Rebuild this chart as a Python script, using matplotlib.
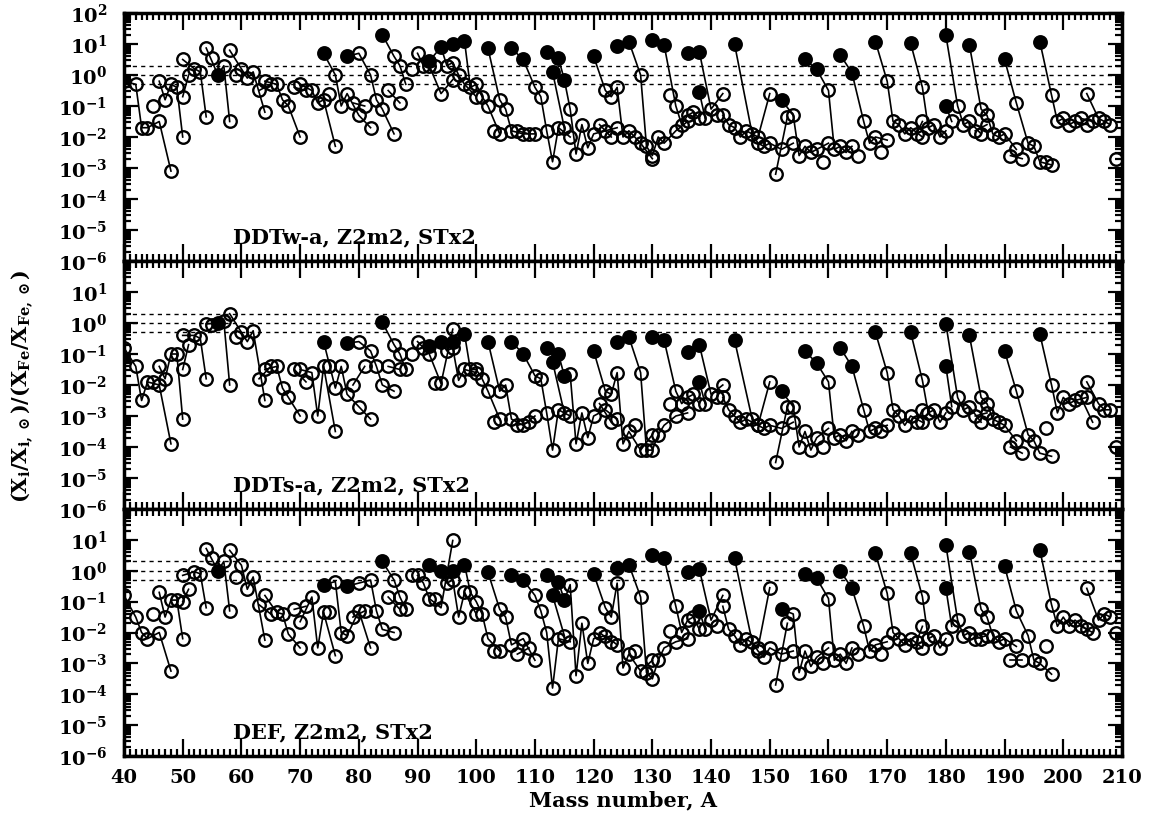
import numpy as np
import matplotlib.pyplot as plt
from matplotlib.ticker import LogLocator, FixedLocator, MultipleLocator, NullFormatter, FuncFormatter

# stable isotopes, one list per element
elements = ["Ca", "Sc", "Ti", "V", "Cr", "Mn", "Fe", "Co", "Ni", "Cu", "Zn", "Ga", "Ge", "As",
            "Se", "Br", "Kr", "Rb", "Sr", "Y", "Zr", "Nb", "Mo", "Ru", "Rh", "Pd", "Ag", "Cd",
            "In", "Sn", "Sb", "Te", "I", "Xe", "Cs", "Ba", "La", "Ce", "Pr", "Nd", "Sm", "Eu",
            "Gd", "Tb", "Dy", "Ho", "Er", "Tm", "Yb", "Lu", "Hf", "Ta", "W", "Re", "Os", "Ir",
            "Pt", "Au", "Hg", "Tl", "Pb", "Bi"]
iso_mass = [
    [40, 42, 43, 44, 46, 48], [45], [46, 47, 48, 49, 50], [50, 51], [50, 52, 53, 54], [55],
    [54, 56, 57, 58], [59], [58, 60, 61, 62, 64], [63, 65], [64, 66, 67, 68, 70], [69, 71],
    [70, 72, 73, 74, 76], [75], [74, 76, 77, 78, 80, 82], [79, 81], [78, 80, 82, 83, 84, 86],
    [85, 87], [84, 86, 87, 88], [89], [90, 91, 92, 94, 96], [93], [92, 94, 95, 96, 97, 98, 100],
    [96, 98, 99, 100, 101, 102, 104], [103], [102, 104, 105, 106, 108, 110], [107, 109],
    [106, 108, 110, 111, 112, 113, 114, 116], [113, 115],
    [112, 114, 115, 116, 117, 118, 119, 120, 122, 124], [121, 123],
    [120, 122, 123, 124, 125, 126, 128, 130], [127],
    [124, 126, 128, 129, 130, 131, 132, 134, 136], [133], [130, 132, 134, 135, 136, 137, 138],
    [138, 139], [136, 138, 140, 142], [141], [142, 143, 144, 145, 146, 148, 150],
    [144, 147, 148, 149, 150, 152, 154], [151, 153], [152, 154, 155, 156, 157, 158, 160], [159],
    [156, 158, 160, 161, 162, 163, 164], [165], [162, 164, 166, 167, 168, 170], [169],
    [168, 170, 171, 172, 173, 174, 176], [175, 176], [174, 176, 177, 178, 179, 180], [180, 181],
    [180, 182, 183, 184, 186], [185, 187], [184, 186, 187, 188, 189, 190, 192], [191, 193],
    [190, 192, 194, 195, 196, 198], [197], [196, 198, 199, 200, 201, 202, 204], [203, 205],
    [204, 206, 207, 208], [209]]

# log10 of the ratio
logv_ddtw = [
    [-0.2, -0.3, -1.7, -1.7, -1.5, -3.1], [-1.0], [-0.2, -0.8, -0.3, -0.4, -2.0], [-0.7, 0.0],
    [0.5, 0.2, 0.1, -1.35], [0.55], [0.87, 0.0, 0.3, -1.5], [0.0], [0.8, 0.2, -0.1, 0.1, -1.2],
    [-0.5, -0.3], [-0.2, -0.3, -0.8, -1.0, -2.0], [-0.4, -0.5], [-0.3, -0.5, -0.9, -0.8, -2.3],
    [-0.6], [0.7, 0.0, -1.0, -0.6, -1.3, -1.7], [-0.9, -1.0], [0.6, 0.7, 0.0, -0.8, -1.1, -1.9],
    [-0.5, -0.9], [1.3, 0.6, 0.3, -0.3], [0.2], [0.7, 0.3, 0.3, -0.6, -0.15], [0.3],
    [0.45, 0.9, 0.3, 0.4, 0.0, -0.3, -0.7], [1.0, 1.1, -0.4, -0.3, -0.7, -1.0, -1.9], [-1.8],
    [0.86, -0.8, -1.1, -1.8, -1.9, -1.9], [-1.8, -1.9],
    [0.86, 0.5, -0.4, -0.7, -1.8, -2.8, -1.7, -2.0], [0.1, -1.7],
    [0.75, 0.55, -0.15, -1.1, -2.55, -1.6, -2.35, -1.9, -1.8, -1.7], [-1.6, -2.0],
    [0.6, -0.5, -0.7, -0.4, -2.0, -1.8, -2.2, -2.7], [-2.0],
    [0.95, 1.08, 0.0, -2.3, -2.6, -2.0, -2.2, -1.8, -1.5], [-0.65],
    [1.13, 0.97, -1.0, -1.6, -1.3, -1.2, -1.4], [-0.55, -1.4], [0.7, 0.75, -1.1, -0.6], [-1.3],
    [-1.3, -1.6, -1.7, -2.0, -1.8, -2.0, -0.6], [1.0, -1.9, -2.2, -2.3, -2.2, -2.4, -2.2],
    [-3.2, -1.35], [-0.8, -1.3, -2.6, -2.3, -2.5, -2.4, -2.2], [-2.8],
    [0.5, 0.18, -0.5, -2.4, -2.3, -2.5, -2.3], [-2.6], [0.65, 0.07, -1.5, -2.2, -2.0, -2.1],
    [-2.5], [1.08, -0.2, -1.5, -1.6, -1.9, -1.7, -2.0], [-1.9, -1.5],
    [1.02, -0.4, -1.7, -1.6, -2.0, -1.8], [-1.0, -1.5], [1.28, -1.0, -1.6, -1.5, -1.9],
    [-1.8, -1.6], [0.97, -1.1, -1.3, -1.9, -2.0, -1.9, -2.4], [-2.6, -2.7],
    [0.5, -0.9, -2.2, -2.3, -2.8, -2.9], [-2.8], [1.08, -0.65, -1.5, -1.4, -1.6, -1.5, -1.6],
    [-1.4, -1.5], [-0.6, -1.4, -1.5, -1.6], [-2.7]]

logv_ddts = [
    [-0.8, -1.4, -2.5, -1.9, -2.0, -3.9], [-1.9], [-1.4, -1.8, -1.0, -1.0, -3.1], [-1.5, -0.7],
    [-0.4, -0.4, -0.5, -1.8], [-0.05], [-0.03, 0.0, 0.07, -2.0], [-0.45],
    [0.3, -0.3, -0.6, -0.25, -2.5], [-1.8, -1.4], [-1.5, -1.4, -2.1, -2.4, -3.0], [-1.5, -1.9],
    [-1.5, -1.6, -3.0, -1.4, -3.5], [-1.4], [-0.6, -2.1, -1.4, -2.3, -2.7, -3.1], [-2.0, -1.4],
    [-0.65, -0.6, -0.9, -1.4, -2.0, -2.2], [-1.4, -1.5], [0.02, -0.7, -1.0, -1.5], [-1.0],
    [-0.6, -0.8, -1.0, -1.95, -0.2], [-1.95], [-0.75, -0.6, -0.9, -0.8, -1.85, -1.5, -1.6],
    [-0.6, -0.35, -1.5, -1.5, -1.8, -2.2, -3.1], [-3.2], [-0.6, -2.2, -2.0, -3.1, -3.3, -3.0],
    [-3.3, -3.2], [-0.6, -1.0, -1.7, -1.8, -2.9, -4.1, -2.8, -3.0], [-1.25, -2.9],
    [-0.8, -1.0, -1.7, -1.65, -3.9, -2.9, -3.7, -3.0, -2.8, -3.1], [-2.6, -3.2],
    [-0.9, -2.2, -2.3, -1.6, -3.9, -3.5, -4.1, -3.6], [-3.3],
    [-0.6, -0.45, -1.6, -4.1, -4.1, -3.6, -3.3, -3.0, -2.9], [-2.6],
    [-0.45, -0.55, -2.2, -2.6, -2.4, -2.3, -2.6], [-1.9, -2.6], [-0.95, -0.7, -2.3, -2.0],
    [-2.4], [-2.4, -2.8, -3.0, -3.2, -3.1, -3.3, -1.9], [-0.55, -3.1, -3.3, -3.4, -3.3, -3.4, -3.2],
    [-4.5, -2.7], [-2.2, -2.7, -4.0, -3.5, -4.1, -3.7, -3.4], [-4.0],
    [-0.9, -1.3, -1.9, -3.7, -3.6, -3.8, -3.5], [-3.6], [-0.8, -1.4, -2.8, -3.5, -3.4, -3.3],
    [-3.5], [-0.3, -1.6, -2.8, -3.0, -3.3, -3.0, -3.2], [-3.2, -2.8],
    [-0.3, -1.85, -2.9, -2.8, -3.2, -2.9], [-1.4, -2.7], [-0.03, -2.4, -2.8, -2.7, -3.2],
    [-3.0, -2.9], [-0.4, -2.4, -2.6, -3.1, -3.2, -3.3, -3.8], [-4.0, -4.2],
    [-0.9, -2.2, -3.6, -3.8, -4.2, -4.3], [-3.4], [-0.35, -2.0, -2.9, -2.4, -2.6, -2.5, -2.4],
    [-2.4, -3.2], [-1.9, -2.6, -2.8, -2.8], [-4.0]]

logv_def = [
    [-0.8, -1.5, -2.0, -2.2, -2.0, -3.25], [-1.4], [-0.7, -1.5, -0.95, -0.95, -2.2], [-1.0, -0.6],
    [-0.15, -0.03, -0.1, -1.2], [0.4], [0.72, 0.0, 0.3, -1.3], [-0.2],
    [0.66, 0.18, -0.6, -0.2, -2.25], [-1.1, -1.4], [-0.8, -1.35, -1.4, -2.05, -2.5],
    [-1.25, -1.15], [-1.65, -0.85, -2.5, -1.35, -2.75], [-1.35],
    [-0.45, -0.35, -2.0, -2.1, -1.3, -2.5], [-1.5, -1.3], [-0.5, -0.4, -0.3, -1.3, -1.9, -2.0],
    [-0.85, -1.25], [0.3, -0.3, -0.85, -1.25], [-0.15], [-0.15, -0.4, -0.9, -1.2, 0.98], [-0.9],
    [0.2, 0.0, -0.4, -0.3, -1.5, -0.7, -1.4], [0.0, 0.2, -0.7, -1.0, -1.4, -2.2, -2.6], [-2.6],
    [-0.05, -1.25, -1.5, -2.4, -2.2, -2.9], [-2.7, -2.5],
    [-0.15, -0.3, -0.8, -1.3, -2.0, -3.8, -2.2, -2.3], [-0.8, -2.1],
    [-0.15, -0.35, -0.95, -0.45, -3.4, -1.7, -3.0, -2.2, -2.1, -2.4], [-2.0, -2.3],
    [-0.1, -1.2, -1.5, -0.4, -3.15, -2.7, -3.25, -2.9], [-2.6],
    [0.1, 0.2, -0.85, -3.3, -3.5, -2.9, -2.5, -2.3, -2.2], [-1.95],
    [0.5, 0.4, -1.15, -2.0, -1.6, -1.5, -1.9], [-1.3, -1.9], [-0.05, 0.05, -1.6, -0.8], [-1.8],
    [-1.15, -1.9, -2.1, -2.4, -2.2, -2.5, -0.55], [0.4, -2.3, -2.6, -2.8, -2.5, -2.7, -2.6],
    [-3.7, -1.7], [-1.25, -1.4, -3.3, -2.6, -3.1, -2.8, -2.5], [-3.0],
    [-0.1, -0.25, -0.9, -2.9, -2.7, -3.0, -2.5], [-2.7], [0.0, -0.57, -1.8, -2.6, -2.4, -2.3],
    [-2.7], [0.56, -0.73, -2.0, -2.2, -2.4, -2.2, -2.5], [-2.3, -1.8],
    [0.56, -0.84, -2.2, -2.1, -2.5, -2.2], [-0.57, -1.8], [0.83, -1.6, -2.1, -2.0, -2.2],
    [-2.2, -2.1], [0.62, -1.25, -1.5, -2.1, -2.3, -2.2, -2.45], [-2.9, -2.9],
    [0.15, -1.3, -2.1, -2.9, -3.0, -3.35], [-2.45], [0.67, -1.1, -1.8, -1.5, -1.8, -1.6, -1.9],
    [-1.8, -2.0], [-0.57, -1.6, -1.4, -1.5], [-2.0]]

# nuclides drawn as filled circles (p-nuclei and 56Fe)
filled = {"Fe": [56], "Se": [74], "Kr": [78], "Sr": [84], "Mo": [92, 94], "Ru": [96, 98],
          "Pd": [102], "Cd": [106, 108], "In": [113], "Sn": [112, 114, 115], "Te": [120],
          "Xe": [124, 126], "Ba": [130, 132], "La": [138], "Ce": [136, 138], "Sm": [144],
          "Gd": [152], "Dy": [156, 158], "Er": [162, 164], "Yb": [168], "Hf": [174],
          "Ta": [180], "W": [180], "Os": [184], "Pt": [190], "Hg": [196]}

panel_labels = ["DDTw-a, Z2m2, STx2", "DDTs-a, Z2m2, STx2", "DEF, Z2m2, STx2"]
ref_lines = [2.0, 1.0, 0.5]

plt.rcParams['font.family'] = 'DejaVu Serif'
plt.rcParams['font.weight'] = 'bold'
plt.rcParams['mathtext.fontset'] = 'dejavuserif'
plt.rcParams['mathtext.default'] = 'bf'

W, H = 1152, 821
fig = plt.figure(figsize=(W / 100, H / 100), dpi=100)
x0, x1 = 124, 1122
panels_px = [(13, 261), (261, 509), (509, 756)]


def log_fmt(v, pos):
    return r"$10^{%d}$" % int(round(np.log10(v)))


data = [logv_ddtw, logv_ddts, logv_def]
for i, (t, b) in enumerate(panels_px):
    ax = fig.add_axes([x0 / W, 1 - b / H, (x1 - x0) / W, (b - t) / H])
    ax.set_yscale('log')
    ax.set_xlim(40, 210)
    ax.set_ylim(1e-6, 1e2)

    for v in ref_lines:
        ax.axhline(v, color='k', lw=1.0, ls=(0, (3, 3)), zorder=1)

    logv = data[i]
    for el, A, lv in zip(elements, iso_mass, logv):
        A = np.array(A)
        y = 10.0 ** np.array(lv)
        ax.plot(A, y, '-', color='k', lw=1.2, zorder=2)
        fl = np.isin(A, filled.get(el, []))
        ax.plot(A[~fl], y[~fl], 'o', ms=9, mfc='none', mec='k', mew=1.7, zorder=3)
        ax.plot(A[fl], y[fl], 'o', ms=9, mfc='k', mec='k', mew=1.7, zorder=4)

    ax.text(58.5, 10 ** -5.25, panel_labels[i], fontsize=15, fontweight='bold',
            ha='left', va='center')

    ax.xaxis.set_major_locator(MultipleLocator(10))
    ax.xaxis.set_minor_locator(MultipleLocator(1))
    top_exp = 2 if i == 0 else 1
    ax.yaxis.set_major_locator(FixedLocator([10.0 ** e for e in range(-6, top_exp + 1)]))
    ax.yaxis.set_minor_locator(LogLocator(base=10, subs=np.arange(2, 10), numticks=20))
    ax.yaxis.set_minor_formatter(NullFormatter())
    ax.yaxis.set_major_formatter(FuncFormatter(log_fmt))
    ax.tick_params(which='both', direction='in', top=True, right=True, width=1.6,
                   labelsize=14)
    ax.tick_params(axis='y', which='major', length=10, pad=12)
    ax.tick_params(axis='x', which='major', length=12, pad=9)
    ax.tick_params(which='minor', length=5)
    for s in ax.spines.values():
        s.set_linewidth(2.5)
    if i < 2:
        ax.tick_params(labelbottom=False)
    else:
        ax.set_xlabel("Mass number, A", fontsize=15, fontweight='bold', labelpad=3)
        for lab in ax.get_xticklabels():
            lab.set_fontweight('bold')

fig.text(0.02, 0.53, r"$(X_i/X_{i,\odot})/(X_{\rm Fe}/X_{\rm Fe,\odot})$", rotation=90,
         ha='center', va='center', fontsize=15)

plt.savefig("out.png", dpi=100)
